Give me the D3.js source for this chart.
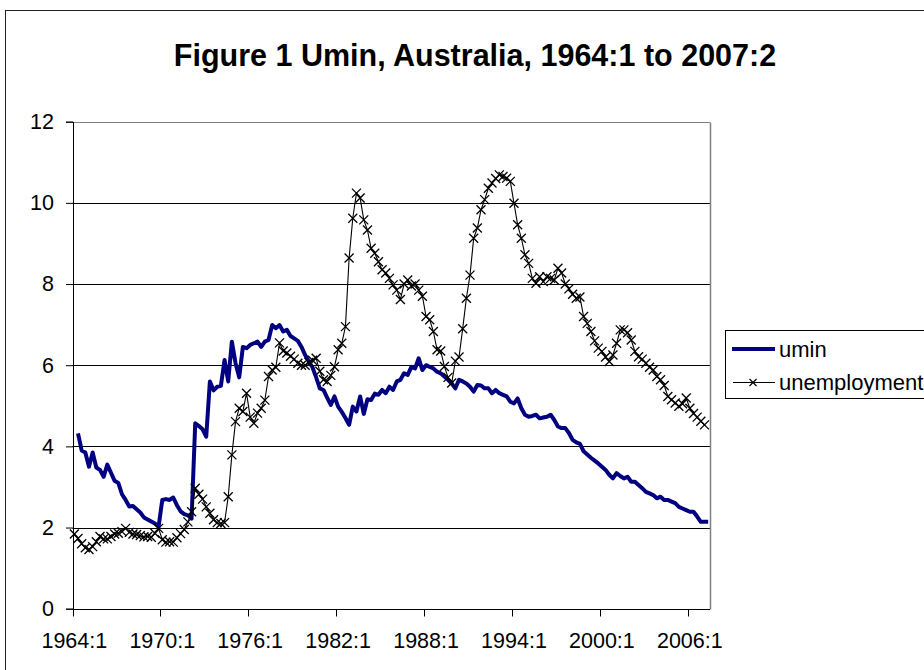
<!DOCTYPE html>
<html>
<head>
<meta charset="utf-8">
<script src="https://cdn.jsdelivr.net/npm/d3@7"></script>
<style>
html,body{margin:0;padding:0;background:#fff;}
svg{display:block;font-family:"Liberation Sans",Arial,sans-serif;}
</style>
</head>
<body>
<svg id="chart" width="924" height="670"></svg>
<script>
// ---- data ----
const title = "Figure 1 Umin, Australia, 1964:1 to 2007:2";
const startYear = 1964, endYear = 2007, endQuarter = 2;
const categories = [];
for (let y = startYear; y <= endYear; y++) {
  for (let q = 1; q <= 4; q++) {
    if (y === endYear && q > endQuarter) break;
    categories.push(y + ":" + q);
  }
}
const tickLabels = ["1964:1","1970:1","1976:1","1982:1","1988:1","1994:1","2000:1","2006:1"];
const yTicks = [0, 2, 4, 6, 8, 10, 12];
const seriesNames = ["umin", "unemployment"];

const umin = [null,
  4.32,3.9,3.85,3.5,3.85,3.48,3.42,3.25,3.55,
  3.35,3.15,3.1,2.82,2.68,2.52,2.53,2.45,2.37,2.25,
  2.2,2.15,2.1,2.02,2.68,2.7,2.68,2.74,2.55,2.4,
  2.33,2.3,2.22,4.57,4.5,4.42,4.24,5.6,5.38,5.47,
  5.49,6.13,5.6,6.58,6.05,5.7,6.45,6.42,6.5,6.54,
  6.58,6.45,6.58,6.62,6.99,6.91,6.99,6.83,6.87,6.72,
  6.66,6.6,6.45,6.25,6.09,5.95,5.7,5.43,5.39,5.2,
  5.02,5.23,4.98,4.85,4.7,4.53,4.98,4.86,5.23,4.8,
  5.16,5.14,5.3,5.27,5.39,5.31,5.47,5.39,5.6,5.64,
  5.8,5.76,5.96,5.92,6.17,5.88,6.0,5.96,5.92,5.84,
  5.8,5.72,5.64,5.55,5.43,5.64,5.6,5.55,5.47,5.35,
  5.51,5.5,5.43,5.43,5.31,5.39,5.31,5.27,5.23,5.1,
  5.06,5.18,4.94,4.78,4.73,4.75,4.78,4.69,4.71,4.73,
  4.78,4.65,4.49,4.45,4.45,4.33,4.16,4.1,4.06,3.88,
  3.8,3.72,3.65,3.58,3.5,3.42,3.3,3.21,3.34,3.27,
  3.21,3.25,3.13,3.13,3.05,2.97,2.88,2.84,2.8,2.72,
  2.76,2.68,2.68,2.64,2.6,2.51,2.47,2.43,2.39,2.39,
  2.27,2.14,2.14,2.14];

const unemployment = [
  1.84,1.73,1.6,1.5,1.46,1.53,1.65,1.78,1.72,1.72,
  1.78,1.84,1.86,1.9,1.98,1.88,1.84,1.83,1.8,1.77,
  1.78,1.76,1.86,1.98,1.7,1.64,1.65,1.64,1.75,1.85,
  1.95,2.14,2.39,2.97,2.82,2.7,2.51,2.35,2.19,2.12,
  2.1,2.12,2.76,3.79,4.61,4.94,4.86,5.31,4.72,4.57,
  4.82,4.94,5.14,5.72,5.88,5.95,6.55,6.35,6.3,6.22,
  6.15,6.05,6.0,6.0,6.07,6.12,6.17,5.85,5.64,5.6,
  5.75,5.96,6.38,6.54,6.95,8.64,9.62,10.24,10.12,9.58,
  9.33,8.88,8.76,8.55,8.35,8.27,8.14,7.98,7.85,7.62,
  8.0,8.1,7.95,8.0,7.85,7.7,7.2,7.12,6.83,6.38,
  6.35,5.97,5.7,5.56,6.1,6.2,6.9,7.65,8.22,9.13,
  9.38,9.83,10.08,10.36,10.49,10.6,10.69,10.65,10.61,10.53,
  9.99,9.46,9.13,8.72,8.51,8.14,8.02,8.18,8.06,8.18,
  8.14,8.1,8.39,8.27,8.0,7.88,7.75,7.65,7.68,7.2,
  7.03,6.83,6.6,6.42,6.34,6.2,6.09,6.25,6.54,6.87,
  6.87,6.8,6.62,6.34,6.21,6.15,6.05,5.95,5.88,5.72,
  5.64,5.5,5.23,5.15,5.07,4.99,5.05,5.19,4.94,4.81,
  4.72,4.62,4.53,null];

// ---- layout ----
const svg = d3.select("#chart");
const plot = {left: 72.5, right: 710, top: 121.7, bottom: 608.7};
const x = d3.scaleBand().domain(categories).range([plot.left, plot.right]).padding(0);
const bw = x.bandwidth();
const cx = c => x(c) + bw / 2;
const y = d3.scaleLinear().domain([0, 12]).range([plot.bottom, plot.top]);
const crisp = v => Math.round(v) + 0.5;

// chart area border
svg.append("rect").attr("x", 5.5).attr("y", 10.5).attr("width", 940).attr("height", 680)
  .attr("fill", "#fff").attr("stroke", "#222").attr("stroke-width", 1);

// title
svg.append("text").attr("x", 475).attr("y", 66).attr("text-anchor", "middle")
  .attr("font-size", 30.5).attr("font-weight", "bold").attr("fill", "#000").text(title);

// gridlines
svg.append("g").selectAll("line").data(yTicks.filter(d => d > 0)).join("line")
  .attr("x1", plot.left).attr("x2", plot.right)
  .attr("y1", d => crisp(y(d))).attr("y2", d => crisp(y(d)))
  .attr("stroke", d => d === 12 ? "#808080" : "#000").attr("stroke-width", 1);

// plot right border
svg.append("line").attr("x1", crisp(plot.right)).attr("x2", crisp(plot.right))
  .attr("y1", crisp(y(12))).attr("y2", crisp(y(0)))
  .attr("stroke", "#808080").attr("stroke-width", 1.5);

// y axis
const yAxis = svg.append("g").attr("transform", `translate(${crisp(plot.left) - 0.5},0)`)
  .call(d3.axisLeft(y).tickValues(yTicks).tickSize(7).tickPadding(12).tickFormat(d3.format("d")));
yAxis.select(".domain").attr("stroke", "#000");
yAxis.selectAll(".tick line").attr("stroke", "#000");
yAxis.selectAll(".tick text").attr("font-size", 21.5).attr("font-family", "Liberation Sans, Arial, sans-serif").attr("fill", "#000");

// x axis (ticks between categories, labels centred on category)
const gx = svg.append("g");
gx.append("line").attr("x1", plot.left).attr("x2", plot.right)
  .attr("y1", crisp(y(0))).attr("y2", crisp(y(0))).attr("stroke", "#000");
gx.selectAll("line.tick").data(tickLabels).join("line").attr("class", "tick")
  .attr("x1", d => crisp(x(d))).attr("x2", d => crisp(x(d)))
  .attr("y1", crisp(y(0))).attr("y2", crisp(y(0)) + 7).attr("stroke", "#000");
gx.selectAll("text").data(tickLabels).join("text")
  .attr("x", d => cx(d)).attr("y", 648).attr("text-anchor", "middle")
  .attr("font-size", 21.5).attr("fill", "#000").text(d => d);

// lines
const lineGen = arr => d3.line()
  .defined((d, i) => arr[i] != null)
  .x((d, i) => cx(categories[i]))
  .y((d, i) => y(arr[i]));

svg.append("path").datum(categories).attr("d", lineGen(umin))
  .attr("fill", "none").attr("stroke", "#000080").attr("stroke-width", 4)
  .attr("stroke-linejoin", "round");

svg.append("path").datum(categories).attr("d", lineGen(unemployment))
  .attr("fill", "none").attr("stroke", "#000").attr("stroke-width", 1.1);

const cross = "M-4.5,-4.5L4.5,4.5M-4.5,4.5L4.5,-4.5";
svg.append("g").selectAll("path")
  .data(categories.map((c, i) => ({c, v: unemployment[i]})).filter(d => d.v != null))
  .join("path")
  .attr("transform", d => `translate(${cx(d.c)},${y(d.v)})`)
  .attr("d", cross).attr("stroke", "#000").attr("stroke-width", 1.3).attr("fill", "none");

// legend
const lg = svg.append("g");
lg.append("rect").attr("x", 725.5).attr("y", 330.5).attr("width", 230).attr("height", 68)
  .attr("fill", "#fff").attr("stroke", "#000");
lg.append("line").attr("x1", 732).attr("x2", 775).attr("y1", 349).attr("y2", 349)
  .attr("stroke", "#000080").attr("stroke-width", 4);
lg.append("text").attr("x", 779).attr("y", 357).attr("font-size", 22).text(seriesNames[0]);
lg.append("line").attr("x1", 733).attr("x2", 775).attr("y1", 382.5).attr("y2", 382.5)
  .attr("stroke", "#000").attr("stroke-width", 1.1);
lg.append("path").attr("transform", "translate(753,382.5)").attr("d", "M-3.5,-3.5L3.5,3.5M-3.5,3.5L3.5,-3.5")
  .attr("stroke", "#000").attr("stroke-width", 1.2);
lg.append("text").attr("x", 779).attr("y", 390).attr("font-size", 22).text(seriesNames[1]);
</script>
</body>
</html>
